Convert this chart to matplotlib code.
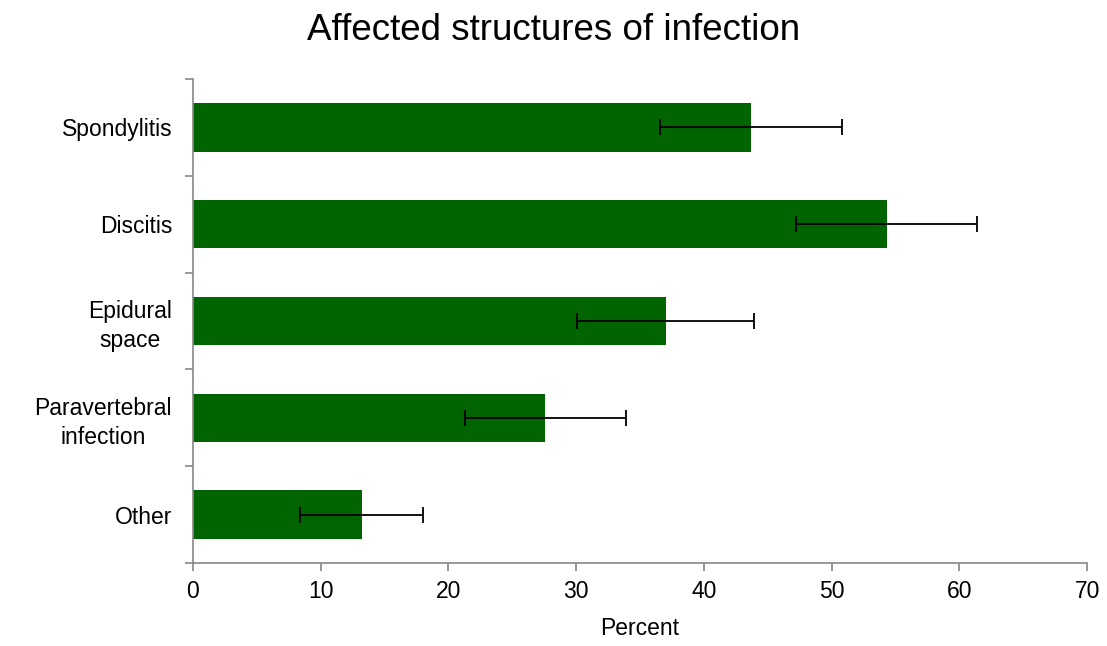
import matplotlib.pyplot as plt

# data
categories = ["Spondylitis", "Discitis", "Epidural\nspace", "Paravertebral\ninfection", "Other"]
percent = [43.7, 54.3, 37.0, 27.6, 13.2]
error = [7.1, 7.1, 6.9, 6.3, 4.8]
x_ticks = [0, 10, 20, 30, 40, 50, 60, 70]

plt.rcParams["font.family"] = ["Liberation Sans", "DejaVu Sans"]

fig = plt.figure(figsize=(11.07, 6.46), dpi=100)
ax = fig.add_axes([0.1743, 0.1285, 0.8077, 0.7492])

pos = list(range(len(categories)))
ax.barh(pos, percent, height=0.5, color="#006400", zorder=2)
ax.errorbar(percent, pos, xerr=error, fmt="none", ecolor="black",
            elinewidth=1.3, capsize=6, capthick=1.3, zorder=3)

ax.set_ylim(len(categories) - 0.5, -0.5)
ax.set_xlim(0, 70)
ax.set_xticks(x_ticks)
ax.set_yticks(pos)
ax.set_yticklabels(categories, multialignment="center", linespacing=1.3)

# category boundary ticks like the original (between bars)
ax.set_yticks([p + 0.5 for p in [-1] + pos], minor=True)
ax.tick_params(axis="y", which="major", length=0, pad=15, labelsize=16.5)
ax.tick_params(axis="y", which="minor", length=6, color="#888888", width=1.2)
ax.tick_params(axis="x", length=6, color="#888888", width=1.2, labelsize=16.5, pad=6)

for s in ["top", "right"]:
    ax.spines[s].set_visible(False)
for s in ["left", "bottom"]:
    ax.spines[s].set_color("#888888")
    ax.spines[s].set_linewidth(1.2)

ax.set_xlabel("Percent", fontsize=16.5, labelpad=10)
fig.suptitle("Affected structures of infection", fontsize=26.5, y=0.98)

fig.savefig("out.png", dpi=100)
